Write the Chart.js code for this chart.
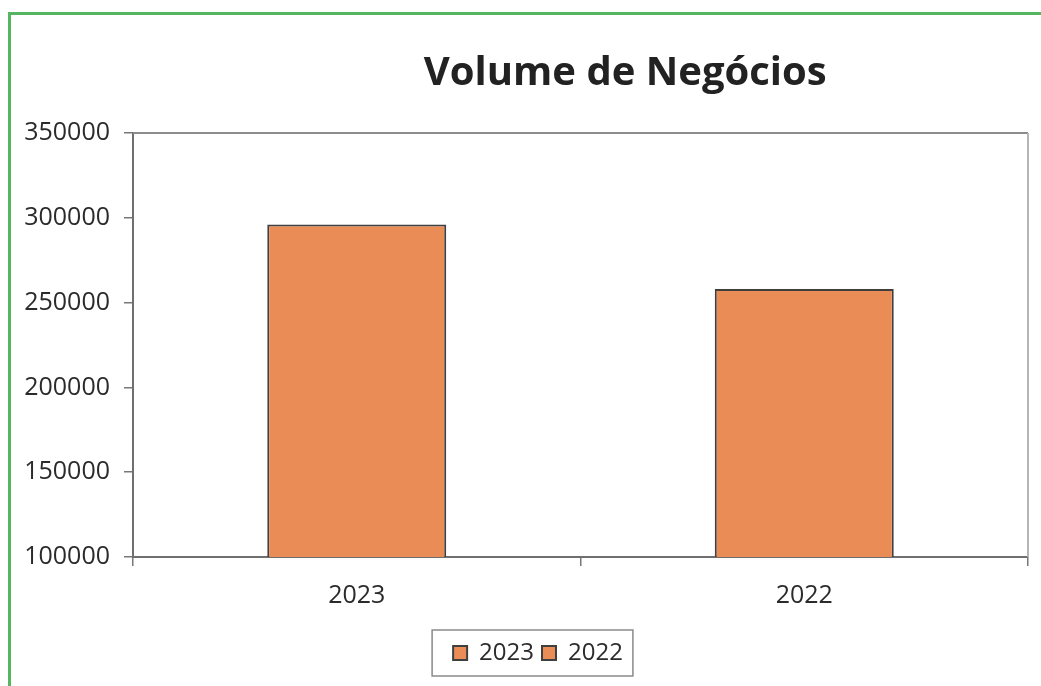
<!DOCTYPE html>
<html>
<head>
<meta charset="utf-8">
<script src="https://cdn.jsdelivr.net/npm/chart.js@4/dist/chart.umd.min.js"></script>
<style>
  body { margin: 0; background: #fff; overflow: hidden; }
  #frame { position: absolute; left: 8px; top: 12px; width: 1200px; height: 800px; border: 3px solid #55b560; }
  #wrap { position: absolute; left: 0; top: 0; width: 1041px; height: 686px; }
</style>
</head>
<body>
<div id="frame"></div>
<div id="wrap"><canvas id="chart" width="1041" height="686"></canvas></div>
<script>
// data
const categories = ['2023', '2022'];
const volumes = [296000, 258000];
const yTicks = [100000, 150000, 200000, 250000, 300000, 350000];
const chartTitle = 'Volume de Negócios';

const barFill = '#e98c55';
const barEdge = '#3f3f3f';
const textColor = '#2b2b2b';
const font = 'Open Sans';

// title sits a bit right of the plot centre, like the original
const titlePlugin = {
    id: 'offTitle',
    afterDraw(chart) {
        const { ctx, chartArea } = chart;
        ctx.save();
        ctx.font = 'bold 40px "Open Sans"';
        ctx.fillStyle = '#222';
        ctx.textAlign = 'center';
        ctx.textBaseline = 'middle';
        ctx.fillText(chartTitle, chartArea.left + (chartArea.right - chartArea.left) * 0.55, 74);
        ctx.restore();
    }
};

// nudge the legend a little to the right
const legendShift = {
    id: 'legendShift',
    afterLayout(chart) {
        chart.legend.left += 24;
        chart.legend.right += 24;
    }
};

// top and right edges of the plot area + the box around the legend
const framePlugin = {
    id: 'frameLines',
    afterDraw(chart) {
        const { ctx, chartArea, legend } = chart;
        ctx.save();
        ctx.lineWidth = 2;
        ctx.strokeStyle = '#8c8c8c';
        ctx.beginPath();
        ctx.moveTo(chartArea.left, chartArea.top);
        ctx.lineTo(chartArea.right, chartArea.top);
        ctx.stroke();
        ctx.strokeStyle = '#b5b5b5';
        ctx.beginPath();
        ctx.moveTo(chartArea.right, chartArea.top);
        ctx.lineTo(chartArea.right, chartArea.bottom);
        ctx.stroke();

        const boxes = legend.legendHitBoxes;
        if (boxes && boxes.length) {
            const l = Math.min(...boxes.map(b => b.left)) - 21;
            const r = Math.max(...boxes.map(b => b.left + b.width)) + 10;
            const t = Math.min(...boxes.map(b => b.top)) - 11;
            const btm = Math.max(...boxes.map(b => b.top + b.height)) + 11;
            ctx.lineWidth = 1.5;
            ctx.strokeStyle = '#8a8a8a';
            ctx.strokeRect(l, t, r - l, btm - t);
        }
        ctx.restore();
    }
};

new Chart(document.getElementById('chart'), {
    type: 'bar',
    data: {
        labels: categories,
        datasets: [{
            label: 'Volume de Negócios',
            data: volumes,
            backgroundColor: categories.map(() => barFill),
            borderColor: barEdge,
            borderWidth: 2,
            borderSkipped: false,
            categoryPercentage: 1,
            barPercentage: 0.4
        }]
    },
    options: {
        responsive: false,
        animation: false,
        devicePixelRatio: 1,
        layout: { padding: { top: 133, right: 13, bottom: 11, left: 0 } },
        plugins: {
            title: { display: false },
            tooltip: { enabled: false },
            legend: {
                position: 'bottom',
                labels: {
                    font: { family: font, size: 24 },
                    color: textColor,
                    boxWidth: 14,
                    boxHeight: 14,
                    padding: 8,
                    generateLabels(chart) {
                        return categories.map((c, i) => ({
                            text: c,
                            fillStyle: barFill,
                            strokeStyle: barEdge,
                            lineWidth: 2,
                            fontColor: textColor,
                            index: i,
                            datasetIndex: 0
                        }));
                    }
                }
            }
        },
        scales: {
            x: {
                grid: { offset: true, drawOnChartArea: false, drawTicks: true, tickLength: 9, color: '#777', lineWidth: 1.5 },
                border: { display: true, color: '#6f6f6f', width: 2 },
                ticks: { font: { family: font, size: 25 }, color: textColor, padding: 15 },
                afterFit(scale) { scale.height = 76; }
            },
            y: {
                min: 100000,
                max: 350000,
                afterBuildTicks(scale) { scale.ticks = yTicks.map(v => ({ value: v })); },
                grid: { drawOnChartArea: false, drawTicks: true, tickLength: 9, color: '#777', lineWidth: 1.5 },
                border: { display: true, color: '#6f6f6f', width: 2 },
                ticks: { font: { family: font, size: 25 }, color: textColor, padding: 14, callback: v => String(v) },
                afterFit(scale) { scale.width = 133; }
            }
        }
    },
    plugins: [titlePlugin, legendShift, framePlugin]
});
</script>
</body>
</html>
